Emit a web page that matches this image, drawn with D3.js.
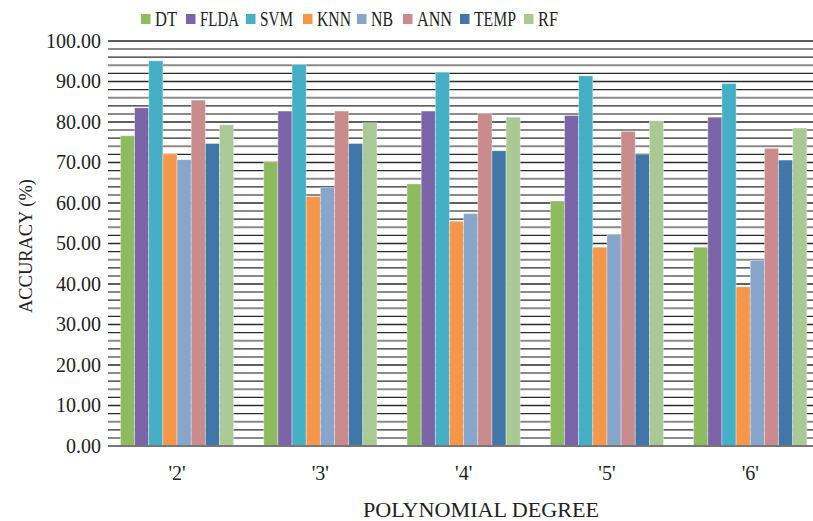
<!DOCTYPE html>
<html>
<head>
<meta charset="utf-8">
<script src="https://cdn.jsdelivr.net/npm/d3@7"></script>
<style>
  body { margin: 0; background: #fff; }
  svg text { font-family: 'Liberation Serif', 'DejaVu Serif', serif; fill: #222; }
</style>
</head>
<body>
<div id="chart"></div>
<script>
const degrees = ["'2'", "'3'", "'4'", "'5'", "'6'"]
const methods = ['DT', 'FLDA', 'SVM', 'KNN', 'NB', 'ANN', 'TEMP', 'RF']
const colors = ['#8fbb5f', '#7b65a8', '#45afc6', '#f59648', '#88a5cb', '#c98b8b', '#4176a8', '#abc995']

// accuracy per method, one value per polynomial degree
const DT = [76.6, 70.2, 64.7, 60.5, 49.1]
const FLDA = [83.5, 82.7, 82.7, 81.6, 81.2]
const SVM = [95.1, 94.2, 92.3, 91.4, 89.5]
const KNN = [72.1, 61.6, 55.5, 49.1, 39.3]
const NB = [70.7, 63.8, 57.4, 52.3, 45.8]
const ANN = [85.4, 82.7, 82.1, 77.7, 73.5]
const TEMP = [74.7, 74.7, 72.9, 72.0, 70.6]
const RF = [79.3, 79.8, 81.2, 80.3, 78.5]
const series = [DT, FLDA, SVM, KNN, NB, ANN, TEMP, RF]

const yTicks = [0, 10, 20, 30, 40, 50, 60, 70, 80, 90, 100]

const width = 813
const height = 521

const svg = d3.select('#chart')
  .append('svg')
  .attr('width', width)
  .attr('height', height)

const x = d3.scaleBand()
  .domain(degrees)
  .range([105.4, 821.9])
  .paddingInner(0.21)
  .paddingOuter(0.105)

const xInner = d3.scaleBand()
  .domain(methods)
  .range([0, x.bandwidth()])

const y = d3.scaleLinear()
  .domain([0, 100])
  .range([446, 41])

// gridlines every 2 units, ticks stick out left of the plot
const grid = svg.append('g').attr('class', 'grid')
grid.selectAll('line')
  .data(d3.range(2, 101, 2))
  .enter()
  .append('line')
  .attr('x1', 108)
  .attr('x2', width)
  .attr('y1', d => y(d))
  .attr('y2', d => y(d))
  .attr('stroke', (d, i) => (d % 10 === 0 || i % 2 === 1) ? '#2a2a2a' : '#8a8a8a')
  .attr('stroke-width', (d, i) => (d % 10 === 0 || i % 2 === 1) ? 1.3 : 2)

// bars
const groups = svg.append('g')
  .selectAll('g')
  .data(degrees)
  .enter()
  .append('g')
  .attr('transform', d => `translate(${x(d)},0)`)

groups.selectAll('rect')
  .data((d, gi) => methods.map((m, mi) => ({ m, mi, v: series[mi][gi] })))
  .enter()
  .append('rect')
  .attr('x', d => xInner(d.m))
  .attr('width', xInner.bandwidth())
  .attr('y', d => y(d.v))
  .attr('height', d => y(0) - y(d.v))
  .attr('fill', d => colors[d.mi])
  .attr('stroke', 'rgba(255,255,255,0.45)')
  .attr('stroke-width', 0.8)

// baseline
svg.append('line')
  .attr('x1', 108)
  .attr('x2', width)
  .attr('y1', y(0))
  .attr('y2', y(0))
  .attr('stroke', '#777')
  .attr('stroke-width', 2)

// y axis labels
const yAxis = d3.axisLeft(y)
  .tickValues(yTicks)
  .tickFormat(d3.format('.2f'))
  .tickSize(0)
  .tickPadding(0)

svg.append('g')
  .attr('transform', 'translate(101,0)')
  .call(yAxis)
  .call(g => g.select('.domain').remove())
  .selectAll('text')
  .attr('font-family', null)
  .style('font-size', '20px')
  .attr('fill', '#222')

// x axis labels
const xAxis = d3.axisBottom(x).tickSize(0).tickPadding(0)
svg.append('g')
  .attr('transform', 'translate(0,466)')
  .call(xAxis)
  .call(g => g.select('.domain').remove())
  .selectAll('text')
  .attr('font-family', null)
  .style('font-size', '20px')
  .attr('fill', '#222')

// axis titles
svg.append('text')
  .attr('transform', 'translate(32,246) rotate(-90)')
  .attr('text-anchor', 'middle')
  .style('font-size', '19px')
  .attr('textLength', 134)
  .attr('lengthAdjust', 'spacingAndGlyphs')
  .text('ACCURACY (%)')

svg.append('text')
  .attr('x', 481)
  .attr('y', 517)
  .attr('text-anchor', 'middle')
  .style('font-size', '20px')
  .attr('textLength', 236)
  .attr('lengthAdjust', 'spacingAndGlyphs')
  .text('POLYNOMIAL DEGREE')

// legend
const legendX = [141, 186, 246, 303, 357, 403, 460, 524]
const legendW = [22, 39, 33, 34, 22, 35, 42, 20]
const legend = svg.append('g')
  .selectAll('g')
  .data(methods)
  .enter()
  .append('g')
  .attr('transform', (d, i) => `translate(${legendX[i]},14)`)

legend.append('rect')
  .attr('width', 9.5)
  .attr('height', 10)
  .attr('fill', (d, i) => colors[i])

legend.append('text')
  .attr('x', 14)
  .attr('y', 12)
  .style('font-size', '22px')
  .attr('textLength', (d, i) => legendW[i])
  .attr('lengthAdjust', 'spacingAndGlyphs')
  .text(d => d)
</script>
</body>
</html>
